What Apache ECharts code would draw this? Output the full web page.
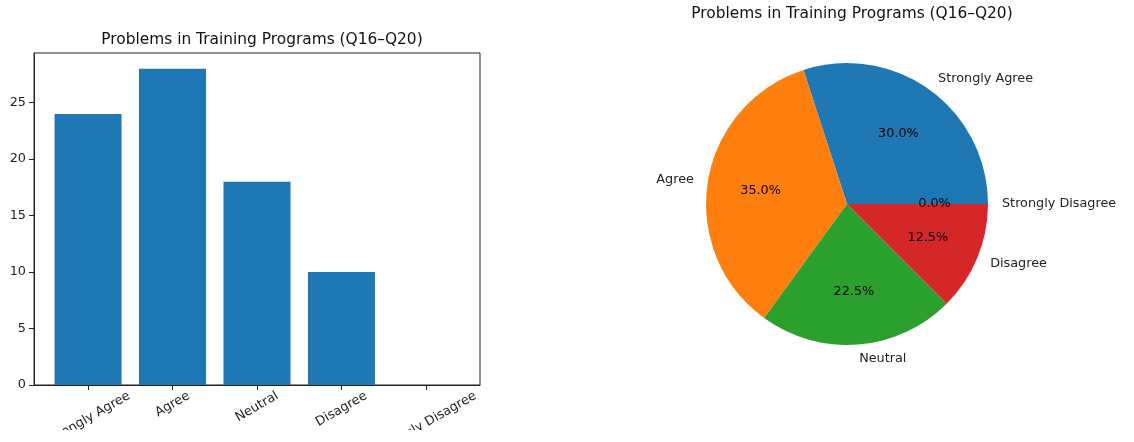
<!DOCTYPE html>
<html>
<head>
<meta charset="utf-8">
<script src="https://cdn.jsdelivr.net/npm/echarts@6.0.0/dist/echarts.min.js"></script>
<style>
html, body { margin: 0; padding: 0; background: #fff; }
#main { width: 1134px; height: 442px; }
</style>
</head>
<body>
<div id="main"></div>
<script>
// survey answers, Q16-Q20
var categories = ['Strongly Agree', 'Agree', 'Neutral', 'Disagree', 'Strongly Disagree'];
var counts = [24, 28, 18, 10, 0];
var yTicks = [0, 5, 10, 15, 20, 25];
var xTicks = [0, 1, 2, 3, 4];
var pieColors = ['#1f77b4', '#ff7f0e', '#2ca02c', '#d62728'];
var chartTitle = 'Problems in Training Programs (Q16\u2013Q20)';

var FONT = '"DejaVu Sans", sans-serif';
var total = 0;
for (var i = 0; i < counts.length; i++) total += counts[i];

// rotated labels centred under the tick like matplotlib: longer labels drop lower
var ctx = document.createElement('canvas').getContext('2d');
ctx.font = '12.8px "DejaVu Sans"';
var rich = {};
categories.forEach(function (c, i) {
    var w = ctx.measureText(c).width;
    var v = 0.25 * w;
    var b = v / 1.155, a = 0.577 * b;
    rich['l' + i] = { padding: [2 * b, 2 * a, 0, 0], fontSize: 12.8, fontFamily: FONT, color: '#222' };
});

var barData = counts.map(function (v, i) { return [i, v]; });
var pieData = categories.map(function (c, i) {
    return { name: c, value: counts[i], itemStyle: { color: pieColors[i % pieColors.length] } };
});

var myChart = echarts.init(document.getElementById('main'));
var option = {
    animation: false,
    backgroundColor: '#fff',
    title: [{
        text: chartTitle,
        left: 257, top: 27, textAlign: 'center',
        textStyle: { fontFamily: FONT, fontSize: 15.4, fontWeight: 'normal', color: '#111' }
    }, {
        text: chartTitle,
        left: 847, top: 1, textAlign: 'center',
        textStyle: { fontFamily: FONT, fontSize: 15.4, fontWeight: 'normal', color: '#111' }
    }],
    grid: {
        left: 34, top: 53, width: 446, height: 332,
        containLabel: false, outerBoundsMode: 'none',
        show: true, borderColor: '#222', borderWidth: 1, backgroundColor: 'transparent'
    },
    xAxis: {
        type: 'value',
        min: -0.64, max: 4.64,
        splitLine: { show: false },
        axisLine: { show: true, onZero: false, lineStyle: { color: '#222' } },
        axisTick: { show: true, length: 5, customValues: xTicks, lineStyle: { color: '#222' } },
        axisLabel: {
            customValues: xTicks,
            rotate: 30, margin: 10,
            align: 'center', verticalAlign: 'middle',
            fontFamily: FONT, fontSize: 12.8, color: '#222',
            rich: rich,
            formatter: function (val) {
                var k = Math.round(val);
                return '{l' + k + '|' + categories[k] + '}';
            }
        }
    },
    yAxis: {
        type: 'value',
        min: 0, max: 29.4,
        splitLine: { show: false },
        axisLine: { show: true, onZero: false, lineStyle: { color: '#222' } },
        axisTick: { show: true, length: 5, customValues: yTicks, lineStyle: { color: '#222' } },
        axisLabel: {
            customValues: yTicks, margin: 8,
            fontFamily: FONT, fontSize: 12.8, color: '#222'
        }
    },
    // the source figure was cut off just under the tick labels
    graphic: [{
        type: 'rect', z: 100, silent: true,
        shape: { x: 0, y: 430, width: 520, height: 12 },
        style: { fill: '#fff' }
    }],
    series: [{
        type: 'bar',
        data: barData,
        barWidth: 67,
        itemStyle: { color: '#1f77b4' },
        emphasis: { disabled: true }
    }, {
        type: 'pie',
        center: [847, 204],
        radius: 141,
        startAngle: 0,
        clockwise: false,
        avoidLabelOverlap: false,
        data: pieData,
        itemStyle: { borderWidth: 0 },
        label: {
            show: true, position: 'outside', distanceToLabelLine: 0,
            fontFamily: FONT, fontSize: 12.8, color: '#222',
            formatter: '{b}'
        },
        labelLine: { show: false, length: 14, length2: 0 },
        emphasis: { disabled: true }
    }, {
        // invisible ring, only carries the percentage text at 0.6 r
        type: 'pie',
        center: [847, 204],
        radius: 169,
        startAngle: 0,
        clockwise: false,
        avoidLabelOverlap: false,
        silent: true,
        data: pieData.map(function (d) { return { name: d.name, value: d.value }; }),
        itemStyle: { color: 'rgba(0,0,0,0)', borderWidth: 0 },
        label: {
            show: true, position: 'inside',
            fontFamily: FONT, fontSize: 12.8, color: '#000',
            formatter: function (p) { return (p.value / total * 100).toFixed(1) + '%'; }
        },
        labelLine: { show: false },
        emphasis: { disabled: true }
    }]
};
myChart.setOption(option);
</script>
</body>
</html>
